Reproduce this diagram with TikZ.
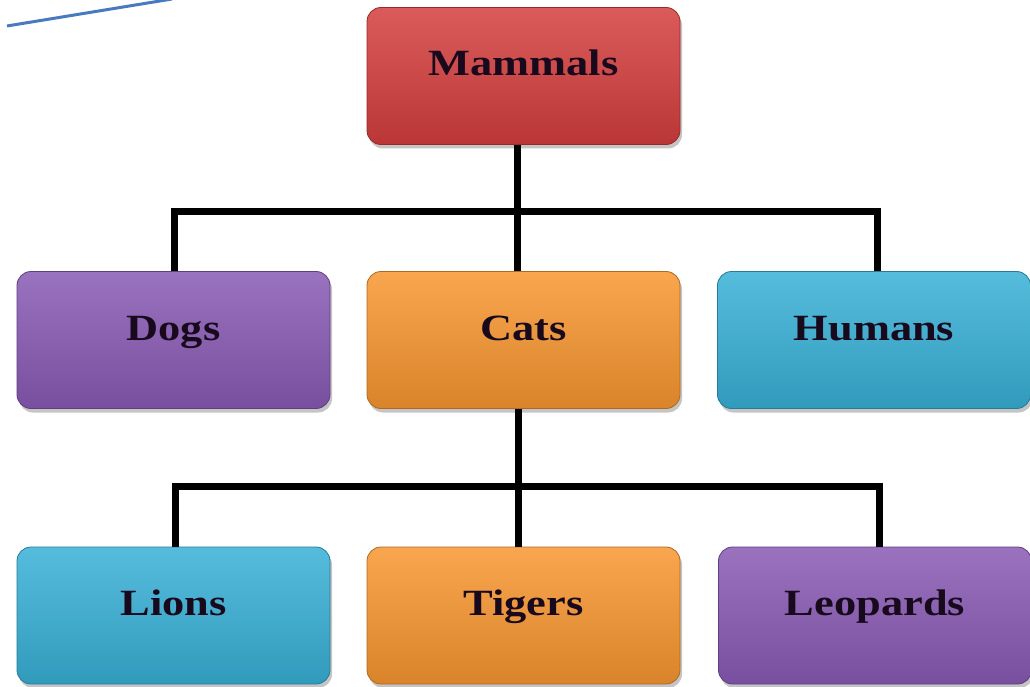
\documentclass[tikz,border=0pt]{standalone}
\usepackage{fontspec}
\setmainfont[FakeStretch=1.2]{Liberation Serif}
\usetikzlibrary{shadows}

\definecolor{redbox}{RGB}{212,62,62}
\definecolor{purplebox}{RGB}{136,90,180}
\definecolor{orangebox}{RGB}{247,150,48}
\definecolor{cyanbox}{RGB}{56,176,214}
\definecolor{linkblue}{RGB}{72,122,192}
\definecolor{labelink}{RGB}{24,10,28}

\tikzset{
  tile/.style={
    rectangle, rounded corners=14pt,
    minimum width=313pt, minimum height=137pt,
    draw=#1!70!black, line width=0.8pt,
    top color=#1!85!white, middle color=#1, bottom color=#1!88!black,
    drop shadow={shadow xshift=2pt, shadow yshift=-4pt, opacity=0.45},
    font=\bfseries\fontsize{37}{40}\selectfont, text=labelink,
    text height=13pt, text depth=13pt, inner sep=0pt
  },
  link/.style={draw=black, line width=7pt},
  blueline/.style={draw=linkblue, line width=3pt}
}

\begin{document}
\begin{tikzpicture}[x=1pt, y=-1pt]
  \useasboundingbox (0,0) rectangle (1030,687);
  \fill[white] (0,0) rectangle (1030,687);

  % stray pen stroke at the top left
  \coordinate (penA) at (7,26);
  \coordinate (penB) at (172,-1);
  \draw[blueline] (penA) -- (penB);

  % boxes
  \node[tile=redbox]    (mammals)  at (523.5,76)    {Mammals};
  \node[tile=purplebox] (dogs)     at (173.5,340)   {Dogs};
  \node[tile=orangebox] (cats)     at (523.5,340)   {Cats};
  \node[tile=cyanbox]   (humans)   at (874,340)     {Humans};
  \node[tile=cyanbox]   (lions)    at (173.5,615.5) {Lions};
  \node[tile=orangebox] (tigers)   at (523.5,615.5) {Tigers};
  \node[tile=purplebox] (leopards) at (875,615.5)   {Leopards};

  % branch points
  \coordinate (busA) at (517.5,211);
  \coordinate (busB) at (518.5,486);
  \coordinate (dropDogs)     at (174,211);
  \coordinate (dropHumans)   at (877,211);
  \coordinate (dropLions)    at (175,486);
  \coordinate (dropLeopards) at (879,486);

  % upper tree
  \draw[link] (mammals.south -| busA) -- (cats.north -| busA);
  \draw[link] (dogs.north -| dropDogs) -- (dropDogs) -- (dropHumans)
              -- (humans.north -| dropHumans);

  % lower tree
  \draw[link] (cats.south -| busB) -- (tigers.north -| busB);
  \draw[link] (lions.north -| dropLions) -- (dropLions) -- (dropLeopards)
              -- (leopards.north -| dropLeopards);
\end{tikzpicture}
\end{document}
